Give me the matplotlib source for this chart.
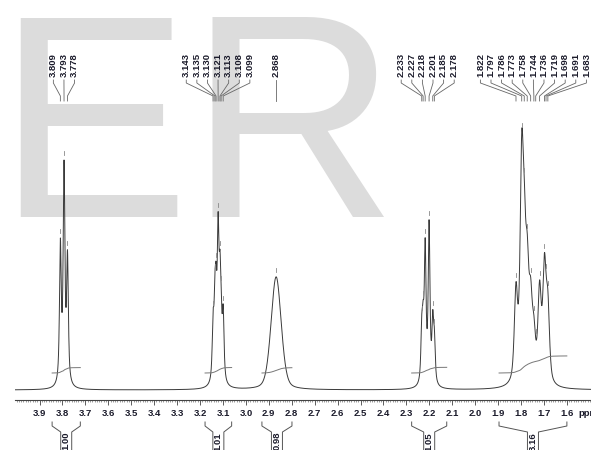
import numpy as np
import matplotlib.pyplot as plt

plt.rcParams['font.family'] = ['Liberation Sans', 'DejaVu Sans']

# picked peaks (ppm) and their heights
m1_ppm = [3.809, 3.793, 3.778]
m1_h = [152, 230, 140]
m2_ppm = [3.143, 3.135, 3.130, 3.121, 3.113, 3.108, 3.099]
m2_h = [80, 117, 128, 178, 140, 105, 85]
m3_ppm = [2.868]
m3_h = [113]
m4_ppm = [2.233, 2.227, 2.218, 2.201, 2.185, 2.178]
m4_h = [75, 90, 152, 170, 80, 62]
m5_ppm = [1.822, 1.797, 1.786, 1.773, 1.758, 1.744, 1.736, 1.719, 1.698, 1.691, 1.683]
m5_h = [108, 258, 213, 157, 113, 75, 50, 110, 137, 117, 100]

# integration regions
int_from = [3.845, 3.178, 2.930, 2.277, 1.896]
int_to = [3.722, 3.062, 2.799, 2.124, 1.600]
int_val = [1.00, 1.01, 0.98, 1.05, 3.16]

tick_vals = np.round(np.arange(3.9, 1.55, -0.1), 1)

groups = [(m1_ppm, m1_h), (m2_ppm, m2_h), (m3_ppm, m3_h), (m4_ppm, m4_h), (m5_ppm, m5_h)]
hwhm = [0.0045, 0.0045, 0.026, 0.0045, 0.0085]
eta = [0.8, 0.8, 0.3, 0.8, 0.6]

px = 229.3          # pixels per ppm
base = 10           # baseline above axis line (px)


def shape(x, x0, g, e):
    d2 = (x - x0) ** 2
    return e * g ** 2 / (d2 + g ** 2) + (1 - e) * np.exp(-np.log(2) * d2 / g ** 2)


x = np.linspace(4.01, 1.49, 8000)
spec = np.zeros_like(x)
for (pp, hh), g, e in zip(groups, hwhm, eta):
    pp = np.array(pp); hh = np.array(hh, float)
    A = shape(pp[:, None], pp[None, :], g, e)
    amp = hh.copy()
    for _ in range(400):
        amp = np.clip(amp + 0.5 * (hh - A @ amp), 0, None)
    for p0, a in zip(pp, amp):
        spec += a * shape(x, p0, g, e)

fig = plt.figure(figsize=(5.91, 4.5), dpi=100)
ax = fig.add_axes([15 / 591, 50 / 450, 576 / 591, 400 / 450])
ax.set_xlim(3.9 + 24.5 / px, 3.9 - 551.5 / px)
ax.set_ylim(0, 400)

# watermark
ax.text(-4 / 591, 1 - 217 / 450, 'ER', transform=fig.transFigure, fontsize=208,
        color='#dcdcdc', ha='left', va='baseline', zorder=0, clip_on=False)

ax.plot(x, spec + base, color='#3a3a3a', lw=0.7, zorder=3)

# peak pick markers
for pp, hh in groups:
    for p0 in pp:
        yv = np.interp(-p0, -x, spec) + base
        ax.plot([p0, p0], [yv + 5, yv + 9], color='#888888', lw=0.6, zorder=3)

# peak labels with fan lines
sp = 10.6 / px
for pp, hh in groups:
    n = len(pp)
    c = np.mean(pp)
    labs = c + sp * ((n - 1) / 2 - np.arange(n))
    for p0, lp in zip(pp, labs):
        ax.text(lp, 347, '%.3f' % p0, rotation=90, ha='center', va='top',
                fontsize=6.8, fontweight='bold', color='#1a1a2a', zorder=4)
        ax.plot([lp, lp, p0, p0], [320, 317, 304, 299], color='#666666', lw=0.6, zorder=4)

# integral curves and brackets
k = 5.4
bw = 5.5 / px
for a, b, v in zip(int_from, int_to, int_val):
    m = (x <= a) & (x >= b)
    cum = np.cumsum(spec[m])
    cum = cum / cum[-1]
    ax.plot(x[m], 27 + k * v * cum, color='#777777', lw=0.7, zorder=3)
    c = (a + b) / 2
    ax.plot([a, a, c + bw, c + bw], [-22, -26, -32, -55], color='#555555', lw=0.7, clip_on=False)
    ax.plot([b, b, c - bw, c - bw], [-22, -26, -32, -55], color='#555555', lw=0.7, clip_on=False)
    ax.text(c, -32, '%.2f' % v, rotation=90, ha='center', va='top', fontsize=6.8,
            fontweight='bold', color='#1a1a2a', clip_on=False)

for s in ['left', 'right', 'top']:
    ax.spines[s].set_visible(False)
ax.spines['bottom'].set_color('#444444')
ax.spines['bottom'].set_linewidth(0.8)
ax.set_yticks([])
ax.set_xticks(tick_vals)
ax.set_xticklabels(['%.1f' % t for t in tick_vals])
ax.set_xticks(np.round(np.arange(4.0, 1.49, -0.01), 2), minor=True)
ax.tick_params(axis='x', which='major', length=3.5, width=0.6, color='#444444',
               labelsize=6.8, labelcolor='#1a1a2a', pad=3.2)
ax.tick_params(axis='x', which='minor', length=1.6, width=0.4, color='#555555')
for t in ax.get_xticklabels():
    t.set_fontweight('bold')
ax.text(578 / 591, 1 - 413 / 450, 'ppm', transform=fig.transFigure, fontsize=6.8,
        fontweight='bold', color='#1a1a2a', va='center', ha='left')

fig.savefig('out.png', dpi=100)
